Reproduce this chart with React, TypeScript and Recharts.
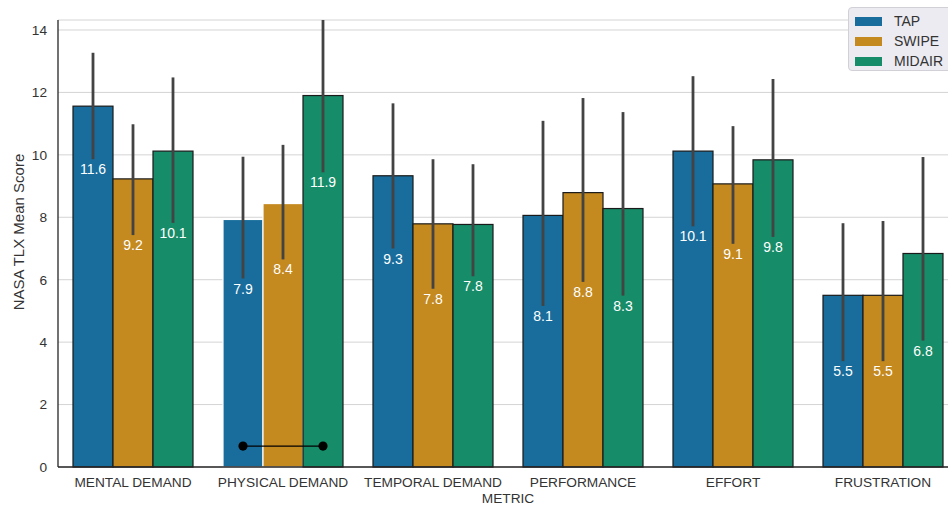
import React from "react";
import { Bar, BarChart, CartesianGrid, ErrorBar, XAxis, YAxis } from "recharts";

const metrics = [
	"MENTAL DEMAND",
	"PHYSICAL DEMAND",
	"TEMPORAL DEMAND",
	"PERFORMANCE",
	"EFFORT",
	"FRUSTRATION",
];
const series = ["TAP", "SWIPE", "MIDAIR"];
const colors = ["#186d9c", "#c4891f", "#178c68"];

const tapMean = [11.56, 7.93, 9.33, 8.06, 10.12, 5.5];
const tapLow = [9.86, 6.04, 7.0, 5.16, 7.71, 3.39];
const tapHigh = [13.27, 9.94, 11.65, 11.09, 12.52, 7.81];

const swipeMean = [9.23, 8.44, 7.79, 8.79, 9.07, 5.5];
const swipeLow = [7.43, 6.65, 5.71, 5.93, 7.15, 3.39];
const swipeHigh = [10.98, 10.32, 9.86, 11.82, 10.92, 7.88];

const midairMean = [10.12, 11.9, 7.77, 8.28, 9.84, 6.84];
const midairLow = [7.82, 9.44, 6.11, 5.49, 7.37, 4.05];
const midairHigh = [12.48, 14.32, 9.7, 11.37, 12.43, 9.93];

const yTicks = [0, 2, 4, 6, 8, 10, 12, 14];
const yMax = 14.32;

// significance bracket: TAP vs MIDAIR on physical demand
const sigMetric = "PHYSICAL DEMAND";
const sigLevel = 0.67;

const means = [tapMean, swipeMean, midairMean];
const lows = [tapLow, swipeLow, midairLow];
const highs = [tapHigh, swipeHigh, midairHigh];

const data = metrics.map((metric, i) => {
	const row: Record<string, any> = { metric };
	series.forEach((s, k) => {
		row[s] = means[k][i];
		row[`${s}_err`] = [means[k][i] - lows[k][i], highs[k][i] - means[k][i]];
	});
	return row;
});

const font = "'Liberation Sans', Arial, sans-serif";
const ink = "#333333";

function barShape(k: number) {
	return (props: any) => {
		const { x, y, width, height, payload } = props;
		const i = metrics.indexOf(payload.metric);
		const perUnit = height / means[k][i];
		const bottom = y + height;
		const labelY = bottom - lows[k][i] * perUnit + 10;
		const plain = payload.metric === sigMetric && k < 2;
		const showSig = payload.metric === sigMetric && k === 2;
		const sigY = bottom - sigLevel * perUnit;
		const x1 = x + width / 2 - 2 * width;
		const x2 = x + width / 2;
		return (
			<g>
				<rect
					x={x}
					y={y}
					width={width}
					height={height}
					fill={colors[k]}
					stroke={plain ? "#ffffff" : "#1a1a1a"}
					strokeWidth={1.2}
				/>
				<text
					x={x + width / 2}
					y={labelY}
					dy="0.36em"
					textAnchor="middle"
					fill="#ffffff"
					fontSize={14}
					fontFamily={font}
				>
					{means[k][i].toFixed(1)}
				</text>
				{showSig && (
					<g>
						<line x1={x1} y1={sigY} x2={x2} y2={sigY} stroke="#000" strokeWidth={1.2} />
						<circle cx={x1} cy={sigY} r={4.6} fill="#000" />
						<circle cx={x2} cy={sigY} r={4.6} fill="#000" />
					</g>
				)}
			</g>
		);
	};
}

export default function App() {
	return (
		<div
			style={{
				position: "fixed",
				left: 0,
				top: 0,
				width: 948,
				height: 511,
				overflow: "hidden",
				background: "#fff",
			}}
		>
			<BarChart
				width={960}
				height={511}
				data={data}
				margin={{ top: 20, right: 2, left: 0, bottom: 0 }}
				barCategoryGap="10%"
				barGap={0}
			>
				<CartesianGrid vertical={false} stroke="#d4d4d4" strokeWidth={1} />
				<XAxis
					dataKey="metric"
					interval={0}
					height={44}
					tickLine={false}
					tickSize={8}
					tickMargin={2}
					axisLine={{ stroke: "#262626", strokeWidth: 1.3 }}
					tick={{ fill: ink, fontSize: 13.7, fontFamily: font }}
					label={(p: any) => (
						<text
							x={p.viewBox.x + p.viewBox.width / 2}
							y={498}
							dy="0.36em"
							textAnchor="middle"
							fill={ink}
							fontSize={13.7}
							fontFamily={font}
						>
							METRIC
						</text>
					)}
				/>
				<YAxis
					type="number"
					domain={[0, yMax]}
					ticks={yTicks}
					width={58}
					tickLine={false}
					tickSize={9}
					tickMargin={2}
					axisLine={{ stroke: "#262626", strokeWidth: 1.3 }}
					tick={{ fill: ink, fontSize: 13.7, fontFamily: font }}
					label={() => (
						<text
							x={19}
							y={232}
							dy="0.36em"
							transform="rotate(-90, 19, 232)"
							textAnchor="middle"
							fill={ink}
							fontSize={15}
							fontFamily={font}
						>
							NASA TLX Mean Score
						</text>
					)}
				/>
				{series.map((s, k) => (
					<Bar
						key={s}
						dataKey={s}
						fill={colors[k]}
						shape={barShape(k)}
						isAnimationActive={false}
					>
						<ErrorBar
							dataKey={`${s}_err`}
							direction="y"
							width={0}
							stroke="#434343"
							strokeWidth={2.8}
							isAnimationActive={false}
						/>
					</Bar>
				))}
			</BarChart>
			<div
				style={{
					position: "absolute",
					left: 848,
					top: 7,
					width: 110,
					height: 62,
					background: "#ebebf1",
					border: "1px solid #d0d0d6",
					borderRadius: 4,
					fontFamily: font,
					fontSize: 14,
					color: ink,
				}}
			>
				{series.map((s, k) => (
					<div
						key={s}
						style={{
							position: "absolute",
							left: 6,
							top: 3 + k * 20,
							height: 20,
							display: "flex",
							alignItems: "center",
						}}
					>
						<span
							style={{
								display: "inline-block",
								width: 27,
								height: 9,
								background: colors[k],
								marginRight: 12,
							}}
						/>
						<span>{s}</span>
					</div>
				))}
			</div>
		</div>
	);
}
